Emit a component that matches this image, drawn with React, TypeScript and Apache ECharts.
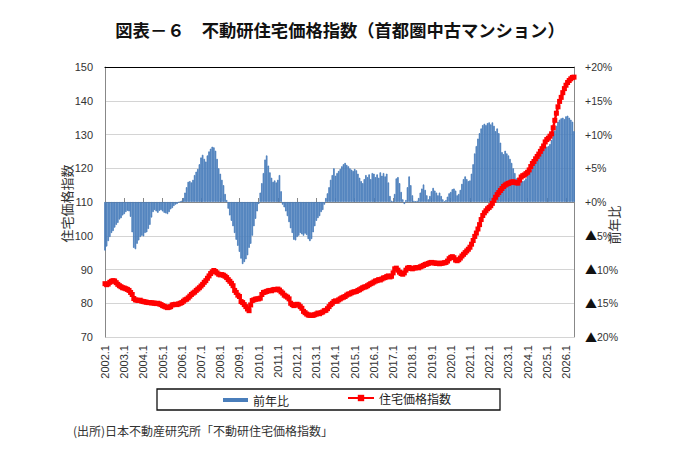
import React, { useEffect, useRef } from "react";
import * as echarts from "echarts";

const START_YEAR = 2002;
const MONTH_COUNT = 294; // 2002.1 - 2026.6
const categories: string[] = [];
for (let i = 0; i < MONTH_COUNT; i++) {
  categories.push(`${START_YEAR + Math.floor(i / 12)}.${(i % 12) + 1}`);
}

const TITLE = "図表－６　不動研住宅価格指数（首都圏中古マンション）";
const SOURCE = "(出所)日本不動産研究所「不動研住宅価格指数」";
const LEFT_NAME = "住宅価格指数";
const RIGHT_NAME = "前年比";
const SERIES_YOY = "前年比";
const SERIES_INDEX = "住宅価格指数";

// 住宅価格指数 (left axis), monthly from 2002.1
const indexValues = [
  85.8, 85.5, 85.7, 86.2, 86.5, 86.7, 86.6, 86.1, 85.6, 85.2, 84.9, 84.6,
  84.5, 84.3, 84.1, 83.8, 83.2, 82.6, 81.4, 81.0, 80.9, 80.8, 80.9, 80.6,
  80.5, 80.4, 80.3, 80.2, 80.2, 80.1, 80.1, 80.0, 79.9, 80.0, 79.8, 79.6,
  79.3, 79.1, 78.9, 78.7, 78.8, 79.0, 79.5, 79.6, 79.7, 79.6, 79.8, 80.0,
  80.2, 80.6, 81.0, 81.2, 81.6, 82.1, 82.6, 83.0, 83.3, 83.8, 84.2, 84.6,
  85.1, 85.6, 86.2, 86.7, 87.4, 88.1, 88.8, 89.3, 89.7, 89.4, 89.0, 88.6,
  88.4, 88.5, 88.3, 88.0, 87.6, 87.0, 86.5, 85.9, 85.2, 83.8, 83.2, 82.4,
  82.0, 80.5, 80.2, 79.6, 79.0, 78.3, 77.8, 79.5, 80.8, 81.0, 81.2, 81.3,
  81.3, 81.5, 82.6, 83.2, 83.3, 83.5, 83.7, 83.8, 83.7, 84.0, 84.1, 84.0,
  84.2, 83.9, 83.4, 83.0, 82.4, 82.1, 81.8, 81.3, 80.0, 79.6, 79.3, 79.5,
  79.7, 79.5, 79.0, 78.5, 77.6, 77.2, 76.8, 76.5, 76.4, 76.5, 76.4, 76.6,
  76.8, 77.1, 76.9, 77.2, 77.4, 77.8, 77.9, 78.4, 79.0, 79.6, 80.0, 80.5,
  80.7, 80.6, 81.0, 81.3, 81.6, 81.8, 82.0, 82.4, 82.7, 82.8, 83.1, 83.3,
  83.4, 83.5, 83.8, 84.0, 84.3, 84.6, 84.8, 84.9, 85.2, 85.5, 85.8, 86.0,
  86.3, 86.6, 86.7, 87.0, 86.9, 87.2, 87.5, 87.6, 87.9, 88.1, 87.8, 88.0,
  89.0, 90.2, 90.4, 89.8, 89.2, 88.8, 88.6, 89.0, 89.8, 90.4, 90.6, 90.3,
  90.2, 90.4, 90.5, 90.6, 90.5, 90.8, 91.0, 91.2, 91.5, 91.6, 91.8, 92.0,
  92.1, 92.0, 91.9, 91.8, 91.9, 91.7, 91.8, 91.9, 92.0, 92.1, 92.5, 93.2,
  93.6, 93.8, 93.5, 92.8, 92.6, 92.9, 93.4, 94.0, 94.5, 95.0, 95.5, 96.0,
  96.6, 97.5, 98.6, 99.8, 100.8, 102.0, 103.3, 104.8, 106.0, 106.8, 107.4, 108.0,
  108.4, 108.9, 109.6, 110.5, 111.4, 112.2, 112.8, 113.4, 114.0, 114.6, 115.0, 115.3,
  115.5, 115.7, 115.9, 116.0, 115.8, 115.7, 115.6, 116.5, 117.4, 117.8, 118.0, 118.4,
  118.8, 119.5, 120.5, 121.4, 122.0, 122.8, 123.5, 124.2, 125.0, 125.8, 126.6, 127.8,
  128.5, 128.9, 129.5, 130.2, 132.0, 134.2, 136.3, 138.2, 139.8, 141.0, 142.4, 143.6,
  144.6, 145.4, 146.0, 146.5, 146.9, 147.0,
];

// 前年比 % (right axis), monthly from 2002.1
const yoyValues = [
  -7.2, -6.6, -5.8, -5.2, -4.6, -4.3, -3.8, -3.4, -3.1, -2.6, -2.4, -2.0,
  -1.8, -1.5, -1.3, -1.4, -2.2, -4.5, -6.8, -7.0, -6.2, -5.7, -5.2, -5.0,
  -5.1, -4.6, -4.5, -4.0, -3.4, -2.3, -1.5, -1.2, -1.4, -1.6, -1.3, -1.2,
  -1.4, -1.6, -1.7, -1.8, -1.5, -1.1, -0.9, -0.6, -0.4, -0.3, -0.1, 0.1,
  0.2, 0.6, 1.4, 2.2, 3.0, 3.1, 2.9, 3.3, 4.0, 4.5, 4.9, 5.6,
  6.6, 7.0, 6.4, 6.0, 6.9, 7.5, 7.9, 8.2, 8.1, 7.6, 6.4, 5.0,
  4.2, 3.3, 2.5, 1.2, 0.3, -1.0, -2.0, -2.8, -3.6, -4.6, -5.6, -6.5,
  -7.4, -8.4, -9.2, -8.9, -8.5, -7.9, -6.8, -6.2, -5.0, -3.6, -2.5, -1.4,
  -0.3, 1.4, 2.8, 4.3, 6.3, 6.9, 5.4, 4.4, 3.6, 3.0, 3.2, 2.9,
  3.3, 4.0, 1.6, -0.4, -0.8, -1.4, -2.1, -3.0, -3.9, -4.6, -5.6, -5.7,
  -5.2, -5.0, -4.6, -4.8, -5.0, -4.7, -4.9, -5.5, -5.8, -5.5, -4.5, -3.6,
  -2.8, -2.4, -2.1, -1.5, -1.2, -0.4, 0.6, 1.3, 2.2, 3.3, 4.0, 5.0,
  3.9, 4.3, 4.6, 4.9, 5.3, 5.6, 5.8, 5.5, 5.3, 5.0, 4.8, 4.6,
  4.9, 4.7, 4.2, 3.6, 3.1, 2.8, 3.4, 4.0, 3.7, 4.1, 3.4, 4.3,
  4.2, 3.7, 4.1, 3.6, 4.4, 3.9, 4.3, 3.8, 4.2, 2.9, 0.9, 0.2,
  0.1, 1.2, 3.5, 3.7, 2.8, 1.5, 0.4, -0.3, 0.3, 2.2, 3.8, 2.5,
  1.0, 0.2, 0.1, 0.2, 0.6, 1.4, 2.0, 2.6, 1.8, 1.0, 0.4, 0.9,
  1.6, 2.1, 1.7, 1.4, 1.0, 1.4, 0.9, 0.4, 0.1, 0.3, 0.8, 1.3,
  1.5, 1.9, 2.0, 1.7, 1.0, 1.2, 1.8, 2.7, 3.4, 3.8, 3.4, 3.1,
  3.2, 4.2, 5.6, 7.2, 8.3, 9.4, 10.2, 10.9, 11.4, 11.6, 11.4, 11.7,
  11.8, 11.5, 11.8, 11.3, 10.5, 10.9, 10.2, 8.8, 7.4, 7.1, 7.6, 7.2,
  6.9, 6.4, 5.8, 5.0, 4.3, 3.5, 3.2, 3.3, 3.4, 3.1, 3.2, 3.5,
  3.9, 4.3, 4.8, 5.2, 5.7, 6.2, 6.6, 7.1, 7.5, 7.8, 7.9, 8.1,
  8.2, 8.3, 8.6, 9.2, 9.8, 10.6, 11.3, 11.9, 12.2, 12.4, 12.5, 12.3,
  12.7, 12.8, 12.5, 12.2, 11.9, 10.5,
];

const NUM_FONT = "'Liberation Sans', Arial, 'Noto Sans CJK JP', sans-serif";
const JP_FONT = "'Noto Sans CJK JP', 'Noto Sans', sans-serif";
const BAR_BLUE = "#4a7ebb";

export default function App() {
  const ref = useRef<HTMLDivElement>(null);
  useEffect(() => {
    if (!ref.current) return;
    const chart = echarts.init(ref.current, undefined, { renderer: "svg" });
    const yearTick = (idx: number) => idx % 12 === 0;
    chart.setOption({
      animation: false,
      backgroundColor: "#ffffff",
      grid: { left: 105, right: 106, top: 67, bottom: 131 },
      xAxis: [
        {
          type: "category",
          data: categories,
          boundaryGap: false,
          axisLine: { lineStyle: { color: "#888888", width: 1 } },
          axisTick: { interval: yearTick, inside: true, length: 4, lineStyle: { color: "#888888" } },
          axisLabel: {
            interval: yearTick,
            rotate: 90,
            margin: 8,
            fontSize: 11,
            color: "#333333",
            fontFamily: NUM_FONT,
          },
          splitLine: { show: false },
        },
        {
          type: "category",
          data: categories,
          boundaryGap: false,
          position: "top",
          axisLine: { lineStyle: { color: "#000000", width: 1.2 } },
          axisTick: { show: false },
          axisLabel: { show: false },
          splitLine: { show: false },
        },
      ],
      yAxis: [
        {
          type: "value",
          min: 70,
          max: 150,
          interval: 10,
          position: "left",
          axisLine: { show: true, lineStyle: { color: "#888888" } },
          axisTick: { show: false },
          axisLabel: { fontSize: 11, color: "#333333", margin: 12, fontFamily: NUM_FONT },
          splitLine: { lineStyle: { color: "#d4d4d4", width: 1 } },
        },
        {
          type: "value",
          min: -20,
          max: 20,
          interval: 5,
          position: "right",
          axisLine: { show: true, lineStyle: { color: "#888888" } },
          axisTick: { show: false },
          axisLabel: {
            fontSize: 10.5,
            color: "#333333",
            margin: 11,
            fontFamily: NUM_FONT,
            formatter: (v: number) =>
              v > 0 ? `+${v}%` : v === 0 ? "+0%" : `{tri|▲}${-v}%`,
            rich: {
              tri: { fontSize: 12, color: "#111111", fontFamily: JP_FONT },
            },
          },
          splitLine: { show: false },
        },
      ],
      legend: [
        {
          data: [{ name: SERIES_YOY, icon: "rect", itemStyle: { color: BAR_BLUE, borderWidth: 0 } }],
          left: 218,
          top: 389,
          itemWidth: 25,
          itemHeight: 4,
          textStyle: { fontSize: 12, color: "#222222", fontFamily: JP_FONT },
          selectedMode: false,
        },
        {
          data: [{ name: SERIES_INDEX }],
          left: 342,
          top: 387,
          itemWidth: 26,
          itemHeight: 8,
          textStyle: { fontSize: 12, color: "#222222", fontFamily: JP_FONT },
          selectedMode: false,
        },
      ],
      graphic: [
        {
          type: "text",
          left: "center",
          top: 21,
          style: {
            text: TITLE,
            fontSize: 17.3,
            fontWeight: "bold",
            fill: "#111111",
            fontFamily: JP_FONT,
          },
        },
        {
          type: "text",
          x: 66.5,
          y: 203.5,
          rotation: Math.PI / 2,
          style: {
            text: LEFT_NAME,
            fontSize: 13,
            fill: "#333333",
            fontFamily: JP_FONT,
            align: "center",
            verticalAlign: "middle",
          },
        },
        {
          type: "text",
          x: 613.5,
          y: 225,
          rotation: Math.PI / 2,
          style: {
            text: RIGHT_NAME,
            fontSize: 13,
            fill: "#333333",
            fontFamily: JP_FONT,
            align: "center",
            verticalAlign: "middle",
          },
        },
        {
          type: "rect",
          shape: { x: 157, y: 389, width: 343, height: 21 },
          style: { fill: "none", stroke: "#111111", lineWidth: 1.3 },
        },
        {
          type: "text",
          x: 73,
          y: 430,
          style: {
            text: SOURCE,
            fontSize: 12,
            fill: "#333333",
            fontFamily: JP_FONT,
            verticalAlign: "middle",
          },
        },
      ],
      series: [
        {
          name: SERIES_YOY,
          type: "bar",
          xAxisIndex: 0,
          yAxisIndex: 1,
          data: yoyValues,
          barWidth: "100%",
          itemStyle: { color: BAR_BLUE, borderColor: BAR_BLUE, borderWidth: 0.8 },
          z: 2,
        },
        {
          name: SERIES_INDEX,
          type: "line",
          xAxisIndex: 0,
          yAxisIndex: 0,
          data: indexValues,
          symbol: "rect",
          symbolSize: 5,
          showAllSymbol: true,
          lineStyle: { color: "#ff0000", width: 2.5 },
          itemStyle: { color: "#ff0000" },
          z: 3,
        },
      ],
    });
    return () => chart.dispose();
  }, []);
  return (
    <div
      ref={ref}
      style={{ position: "absolute", left: 0, top: 0, width: 680, height: 468 }}
    />
  );
}
